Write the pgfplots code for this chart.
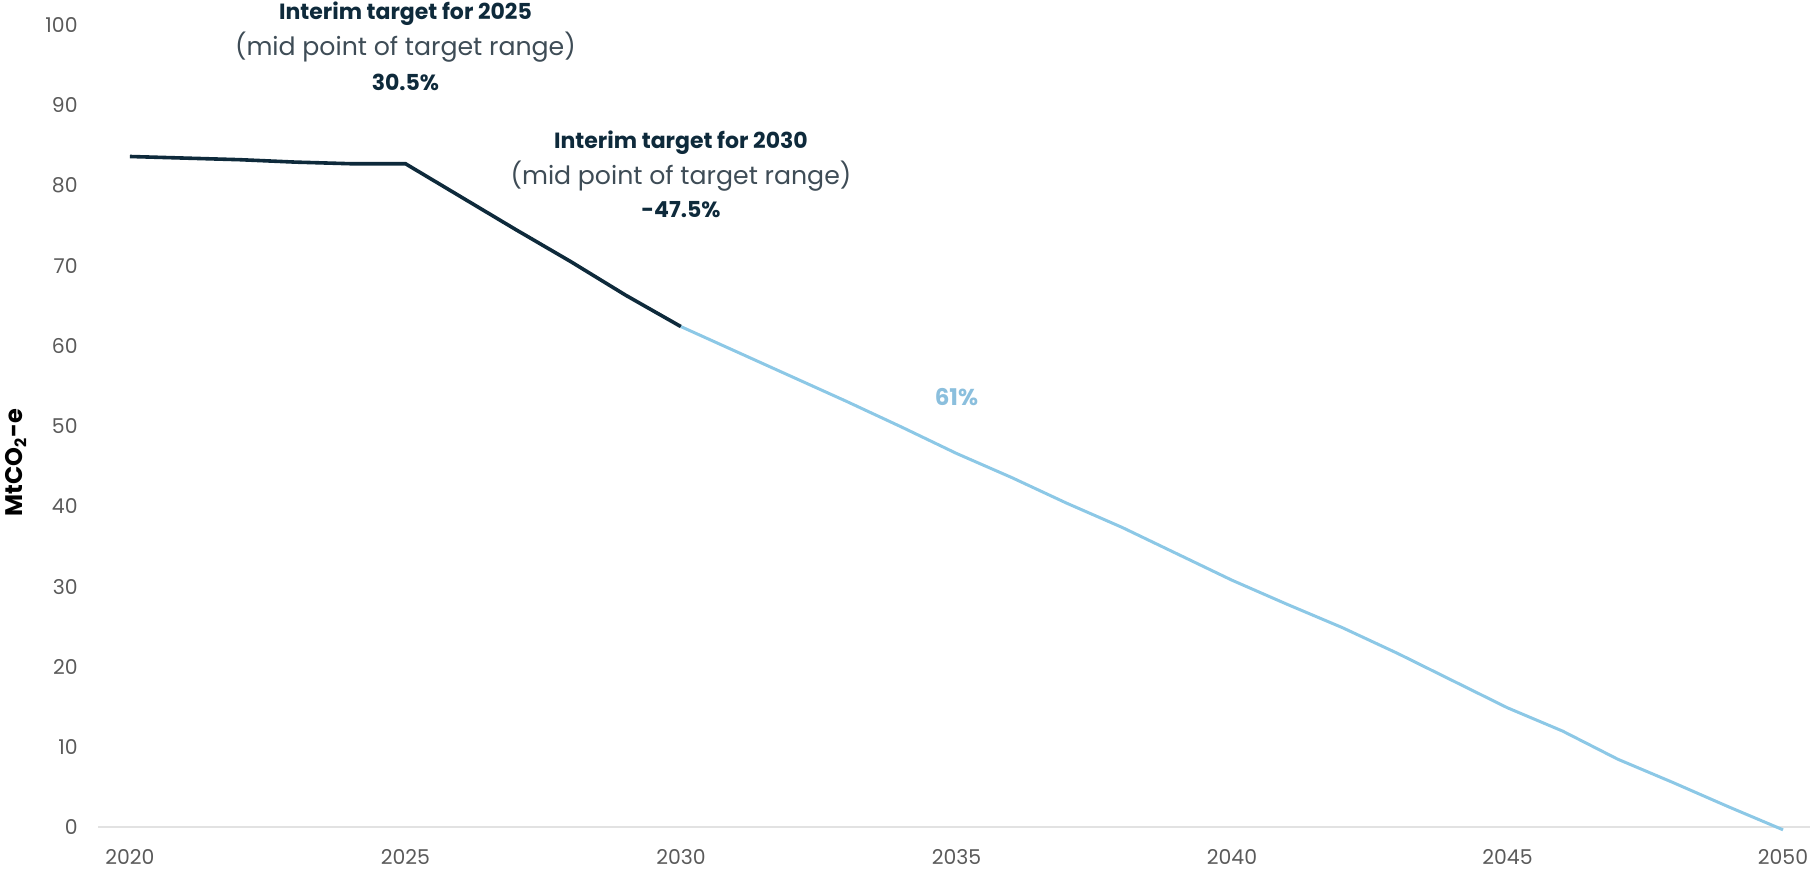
\documentclass[border=0pt]{standalone}
\usepackage{fontspec}
\setmainfont{Poppins}
\usepackage{pgfplots}
\pgfplotsset{compat=1.18}
\definecolor{navy}{HTML}{0E2A3B}
\definecolor{lblue}{HTML}{8CC8E6}
\definecolor{lbluetxt}{HTML}{8BBFDD}
\definecolor{ticktxt}{HTML}{5A5A5A}
\definecolor{subtxt}{HTML}{3E4C56}
\definecolor{baseline}{HTML}{E2E2E2}
\begin{document}
\begin{tikzpicture}
\begin{axis}[
  scale only axis,
  width=856pt, height=401.25pt,
  xmin=2019.42, xmax=2050.49,
  ymin=0, ymax=100,
  clip=false,
  axis x line=bottom,
  axis y line=none,
  x axis line style={draw=baseline, line width=1pt, -},
  major tick length=0pt,
  xtick={2020,2025,...,2050},
  ytick={0,10,...,100},
  /pgf/number format/1000 sep={},
  /pgf/number format/assume math mode=true,
  xticklabel style={anchor=north, inner sep=0pt, yshift=-11pt, font=\fontsize{10.2}{12}\selectfont, text=ticktxt},
]
\addplot[draw=navy, line width=1.8pt] coordinates {
  (2020,83.6) (2021,83.4) (2022,83.2) (2023,82.9) (2024,82.7) (2025,82.7)
  (2026,78.6) (2027,74.5) (2028,70.5) (2029,66.3) (2030,62.4)
};
\addplot[draw=lblue, line width=1.5pt] coordinates {
  (2030,62.4) (2031,59.3) (2032,56.2) (2033,53.1) (2034,49.9) (2035,46.6)
  (2036,43.6) (2037,40.4) (2038,37.4) (2039,34.1) (2040,30.8) (2041,27.8)
  (2042,24.9) (2043,21.7) (2044,18.3) (2045,14.9) (2046,12.0) (2047,8.5)
  (2048,5.6) (2049,2.6) (2050,-0.3)
};
% y tick labels
\foreach \v in {0,10,...,100} {
  \edef\tmp{\noexpand\node[anchor=east, inner sep=0pt, text=ticktxt, font=\noexpand\fontsize{10.2}{12}\noexpand\selectfont] at (axis cs:2019.42,\v) [xshift=-10pt] {\v};}
  \tmp
}
% annotations
\node[text=navy, font=\fontsize{11}{13}\selectfont\bfseries] at (axis cs:2025,101.4) {Interim target for 2025};
\node[text=subtxt, font=\fontsize{12.6}{14}\selectfont] at (axis cs:2025,97.2) {(mid point of target range)};
\node[text=navy, font=\fontsize{11}{13}\selectfont\bfseries] at (axis cs:2025,92.8) {30.5\%};
\node[text=navy, font=\fontsize{11}{13}\selectfont\bfseries] at (axis cs:2030,85.3) {Interim target for 2030};
\node[text=subtxt, font=\fontsize{12.6}{14}\selectfont] at (axis cs:2030,81.2) {(mid point of target range)};
\node[text=navy, font=\fontsize{11}{13}\selectfont\bfseries] at (axis cs:2030,77.0) {-47.5\%};
\node[text=lbluetxt, font=\fontsize{11.5}{13}\selectfont\bfseries] at (axis cs:2035,53.6) {61\%};
\node[rotate=90, text=black, font=\fontsize{12}{14}\selectfont\bfseries] at (axis cs:2017.93,45.5) {MtCO\textsubscript{2}-e};
\end{axis}
\pgfresetboundingbox
\path[use as bounding box] (-49pt,-21.8pt) rectangle (858pt,413.7pt);
\end{tikzpicture}
\end{document}
